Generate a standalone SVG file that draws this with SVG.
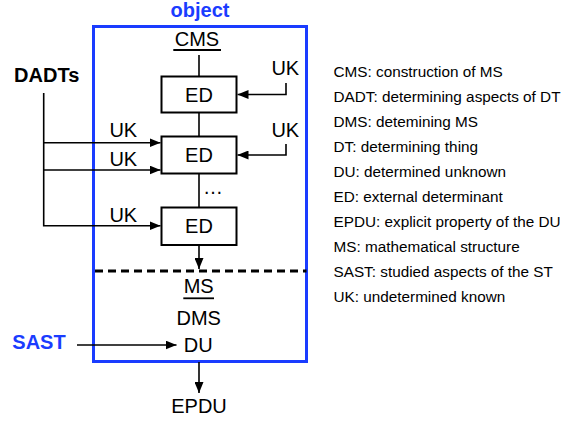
<svg xmlns="http://www.w3.org/2000/svg" width="574" height="425" viewBox="0 0 574 425">
<style>
text{font-family:"Liberation Sans",Arial,sans-serif;fill:#000}
.lbl{font-size:20px;text-anchor:middle}
.bold{font-weight:bold}
.blue{fill:#1a3cff}
.leg{font-size:15.3px}
.ln{stroke:#000;stroke-width:1.6;fill:none}
.box{fill:#fff;stroke:#000;stroke-width:2}
</style>
<defs>
<marker id="ah" viewBox="0 0 11 9" refX="11" refY="4.5" markerWidth="11" markerHeight="9" markerUnits="userSpaceOnUse" orient="auto">
<path d="M0,0 L11,4.5 L0,9 z" fill="#000"/>
</marker>
</defs>
<rect x="0" y="0" width="574" height="425" fill="#fff"/>
<g id="object">
<rect x="93.5" y="26.5" width="213" height="335" fill="none" stroke="#1a3cff" stroke-width="3"/>
<text class="lbl bold blue" x="200" y="17">object</text>
<line x1="93.5" y1="271" x2="306.5" y2="271" stroke="#000" stroke-width="3" stroke-dasharray="8 5" stroke-dashoffset="-1.5"/>
</g>
<g id="connectors">
<line class="ln" x1="199" y1="55" x2="199" y2="76"/>
<line class="ln" x1="199" y1="112.5" x2="199" y2="136"/>
<line class="ln" x1="199" y1="173.5" x2="199" y2="207.5"/>
<line class="ln" x1="199" y1="245" x2="199" y2="269" marker-end="url(#ah)"/>
<line class="ln" x1="199" y1="362" x2="199" y2="393" marker-end="url(#ah)"/>
<polyline class="ln" points="286,83 286,94.5 237.5,94.5" marker-end="url(#ah)"/>
<polyline class="ln" points="286,144 286,155 237.5,155" marker-end="url(#ah)"/>
<polyline class="ln" points="43.7,93 43.7,225.7 160.5,225.7" marker-end="url(#ah)"/>
<line class="ln" x1="43.7" y1="142.7" x2="160.5" y2="142.7" marker-end="url(#ah)"/>
<line class="ln" x1="43.7" y1="170" x2="160.5" y2="170" marker-end="url(#ah)"/>
<line class="ln" x1="77" y1="345" x2="176.5" y2="345" marker-end="url(#ah)"/>
</g>
<g id="cms">
<text class="lbl" x="197" y="45.5">CMS</text>
<line x1="173.3" y1="50" x2="221" y2="50" stroke="#000" stroke-width="1.8"/>
</g>
<g id="ed1">
<rect class="box" x="161.5" y="76.5" width="75" height="36"/>
<text class="lbl" x="199" y="101.5">ED</text>
</g>
<g id="ed2">
<rect class="box" x="161.5" y="136.5" width="75" height="37"/>
<text class="lbl" x="199" y="161.5">ED</text>
</g>
<g id="ed3">
<rect class="box" x="161.5" y="207.5" width="75" height="37.5"/>
<text class="lbl" x="199" y="232.5">ED</text>
</g>
<g id="dots"><text class="lbl" x="213" y="194">…</text></g>
<g id="uk-r1"><text class="lbl" x="285.3" y="75">UK</text></g>
<g id="uk-r2"><text class="lbl" x="285.3" y="137">UK</text></g>
<g id="uk-l1"><text class="lbl" x="123.3" y="137">UK</text></g>
<g id="uk-l2"><text class="lbl" x="123.3" y="165.7">UK</text></g>
<g id="uk-l3"><text class="lbl" x="123.3" y="221.7">UK</text></g>
<g id="dadts"><text class="lbl bold" x="46.7" y="81.5">DADTs</text></g>
<g id="ms">
<text class="lbl" x="198.7" y="293.3">MS</text>
<line x1="183.3" y1="298.3" x2="214" y2="298.3" stroke="#000" stroke-width="1.8"/>
</g>
<g id="dms"><text class="lbl" x="198.7" y="325">DMS</text></g>
<g id="du"><text class="lbl" x="198.3" y="351.7">DU</text></g>
<g id="sast"><text class="lbl bold blue" x="39" y="349.3">SAST</text></g>
<g id="epdu"><text class="lbl" x="199" y="413.3">EPDU</text></g>
<g id="legend" class="leg">
<text class="leg" x="333.5" y="77">CMS: construction of MS</text>
<text class="leg" x="333.5" y="102">DADT: determining aspects of DT</text>
<text class="leg" x="333.5" y="127">DMS: detemining MS</text>
<text class="leg" x="333.5" y="152">DT: determining thing</text>
<text class="leg" x="333.5" y="177">DU: determined unknown</text>
<text class="leg" x="333.5" y="202">ED: external determinant</text>
<text class="leg" x="333.5" y="227">EPDU: explicit property of the DU</text>
<text class="leg" x="333.5" y="252">MS: mathematical structure</text>
<text class="leg" x="333.5" y="277">SAST: studied aspects of the ST</text>
<text class="leg" x="333.5" y="302">UK: undetermined known</text>
</g>
</svg>
